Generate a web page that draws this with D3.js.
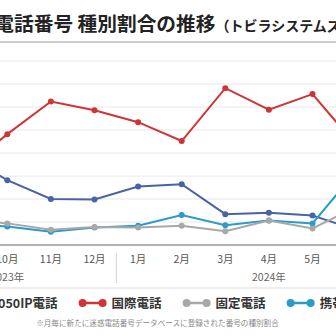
<!DOCTYPE html>
<html>
<head>
<meta charset="utf-8">
<script src="https://cdn.jsdelivr.net/npm/d3@7/dist/d3.min.js"></script>
<style>
    body {
        padding: 0;
        margin: 0;
        background: #fff;
    }
    text {
        font-family: "Noto Sans CJK JP", "Noto Sans", sans-serif;
    }
</style>
</head>
<body>
<script>
// months Aug 2023 - Jul 2024 (only Sep-Jun fall near the visible crop)
const months = ['8月', '9月', '10月', '11月', '12月', '1月', '2月', '3月', '4月', '5月', '6月', '7月'];
const monthYear = [0, 0, 0, 0, 0, 1, 1, 1, 1, 1, 1, 1];
const years = ['2023年', '2024年'];

// share (%) of newly registered numbers by type
const ip050 = [null, 19.7, 14.1, 10.0, 9.9, 12.7, 13.2, 6.7, 7.0, 6.4, 3.3, null];
const intl = [null, 16.3, 24.1, 31.2, 29.3, 26.7, 22.6, 34.1, 29.4, 32.8, 21.7, null];
const fixed = [null, 5.5, 4.7, 3.3, 3.9, 3.8, 4.2, 3.0, 5.3, 3.6, 8.3, null];
const mobile = [null, 4.8, 4.0, 2.9, 3.8, 4.2, 6.5, 4.3, 5.3, 4.7, 16.0, null];

const yTicks = [0, 5, 10, 15, 20, 25, 30, 35, 40];

const series = [
    {name: '050IP電話', values: ip050, color: '#4a62a6'},
    {name: '国際電話', values: intl, color: '#cf3437'},
    {name: '固定電話', values: fixed, color: '#a8a8a8'},
    {name: '携帯電話', values: mobile, color: '#2b9bc9'},
];
// draw order: red, blue, cyan, gray on top
const drawOrder = [1, 0, 3, 2];

const width = 336;
const height = 336;

const svg = d3.create('svg')
    .attr('viewBox', [0, 0, width, height])
    .attr('width', width)
    .attr('height', height);

document.body.appendChild(svg.node());

// title
const title = svg.append('text')
    .attr('x', -45)
    .attr('y', 31)
    .attr('fill', '#222')
    .attr('font-weight', 700)
    .attr('font-size', 19.7);
title.append('tspan').text('迷惑電話番号 種別割合の推移');
title.append('tspan').attr('font-size', 14).text('（トビラシステムズ調べ）');

svg.append('line')
    .attr('x1', 0).attr('x2', width)
    .attr('y1', 42).attr('y2', 42)
    .attr('stroke', '#cbcbcb')
    .attr('stroke-width', 2);

const x = d3.scalePoint()
    .domain(d3.range(months.length))
    .range([-79.9, 399.7]);

const y = d3.scaleLinear()
    .domain([0, 40])
    .range([245, 61]);

// grid
svg.append('g')
    .selectAll('line')
    .data(yTicks.filter(d => d > 0))
    .join('line')
        .attr('x1', 0).attr('x2', width)
        .attr('y1', d => y(d)).attr('y2', d => y(d))
        .attr('stroke', '#e8e8e8')
        .attr('stroke-width', 1);

// series
const line = d3.line()
    .defined(d => d != null)
    .x((d, i) => x(i))
    .y(d => y(d));

drawOrder.forEach(k => {
    const s = series[k];
    const g = svg.append('g');
    g.append('path')
        .attr('d', line(s.values))
        .attr('fill', 'none')
        .attr('stroke', s.color)
        .attr('stroke-width', 2);
    g.selectAll('circle')
        .data(s.values.map((v, i) => ({v, i})).filter(d => d.v != null))
        .join('circle')
            .attr('cx', d => x(d.i))
            .attr('cy', d => y(d.v))
            .attr('r', 3)
            .attr('fill', s.color);
});

// x axis
svg.append('line')
    .attr('x1', 0).attr('x2', width)
    .attr('y1', y(0)).attr('y2', y(0))
    .attr('stroke', '#9a9a9a')
    .attr('stroke-width', 1.6);

svg.append('g')
    .selectAll('text')
    .data(months)
    .join('text')
        .attr('x', (d, i) => x(i))
        .attr('y', 263)
        .attr('text-anchor', 'middle')
        .attr('font-size', 10.5)
        .attr('fill', '#555')
        .text(d => d);

svg.append('g')
    .selectAll('text')
    .data(years)
    .join('text')
        .attr('x', (d, k) => {
            const idx = d3.range(months.length).filter(i => monthYear[i] === k);
            return (x(idx[0]) + x(idx[idx.length - 1])) / 2;
        })
        .attr('y', 281)
        .attr('text-anchor', 'middle')
        .attr('font-size', 10.5)
        .attr('fill', '#666')
        .text(d => d);

// year divider
const firstOf2024 = monthYear.indexOf(1);
const divX = (x(firstOf2024 - 1) + x(firstOf2024)) / 2;
svg.append('line')
    .attr('x1', divX).attr('x2', divX)
    .attr('y1', 253).attr('y2', 283)
    .attr('stroke', '#d0d0d0')
    .attr('stroke-width', 1);

svg.append('line')
    .attr('x1', 0).attr('x2', width)
    .attr('y1', 288).attr('y2', 288)
    .attr('stroke', '#dcdcdc')
    .attr('stroke-width', 1);

// legend
let lx = -35;
series.forEach(s => {
    const g = svg.append('g').attr('transform', `translate(${lx}, 303)`);
    g.append('line')
        .attr('x1', 4).attr('x2', 24)
        .attr('stroke', s.color)
        .attr('stroke-width', 2.5);
    g.selectAll('circle')
        .data([4, 24])
        .join('circle')
            .attr('cx', d => d)
            .attr('r', 4)
            .attr('fill', s.color);
    const t = g.append('text')
        .attr('x', 33)
        .attr('y', 4.5)
        .attr('font-size', 12.5)
        .attr('font-weight', 700)
        .attr('fill', '#333')
        .text(s.name);
    lx += 33 + t.node().getComputedTextLength() + 21;
});

// footnote
svg.append('text')
    .attr('x', 157.5)
    .attr('y', 325.5)
    .attr('text-anchor', 'middle')
    .attr('font-size', 7.6)
    .attr('fill', '#888')
    .text('※月毎に新たに迷惑電話番号データベースに登録された番号の種別割合');
</script>
</body>
</html>
